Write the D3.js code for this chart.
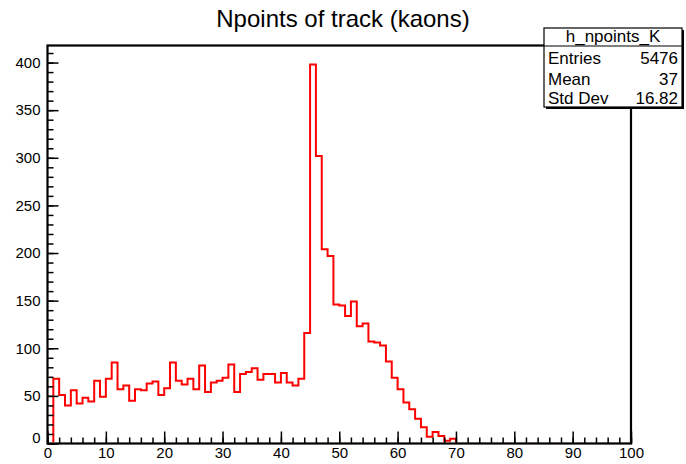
<!DOCTYPE html>
<html>
<head>
<meta charset="utf-8">
<script src="https://cdn.jsdelivr.net/npm/d3@7"></script>
<style>
  html, body { margin: 0; padding: 0; background: #fff; }
  svg { display: block; font-family: "Liberation Sans", Arial, sans-serif; }
</style>
</head>
<body>
<svg id="chart" width="686" height="464"></svg>
<script>
// Histogram h_npoints_K: 100 bins over [0, 100)
const xMin = 0, xMax = 100;
const binCounts = [
  0,
  68, 51, 40, 56, 42, 48, 44, 66, 49, 68, 85, 57, 61, 45, 57, 56, 63,
  65, 51, 58, 85, 66, 62, 68, 57, 82, 54, 64, 66, 69, 83, 54, 73, 75, 79, 67, 73, 73, 64, 74, 64, 61, 68, 116,
  398, 302, 204, 197,
  146, 145, 134, 149, 123, 126, 107, 106, 103, 86, 69, 57, 43, 36, 26, 17, 7, 12, 8, 3, 5,
  0, 0, 0, 0, 0, 0, 0, 0, 0, 0, 0, 0, 0, 0, 0, 0, 0, 0, 0, 0, 0, 0, 0, 0, 0, 0, 0, 0, 0, 0
];
const xTickValues = [0, 10, 20, 30, 40, 50, 60, 70, 80, 90, 100];
const yTickValues = [0, 50, 100, 150, 200, 250, 300, 350, 400];
const titleText = "Npoints of track (kaons)";
const statsName = "h_npoints_K";
const statsRows = [["Entries", "5476"], ["Mean", "37"], ["Std Dev", "16.82"]];

const svg = d3.select("#chart");
const frame = { left: 47.5, right: 631, top: 45.5, bottom: 443.5 };

const nBins = binCounts.length;
const binWidth = (xMax - xMin) / nBins;
const yMax = 1.05 * d3.max(binCounts);

const x = d3.scaleLinear().domain([xMin, xMax]).range([frame.left, frame.right]);
const y = d3.scaleLinear().domain([0, yMax]).range([frame.bottom, frame.top]);

// Keep the outline inside the frame so the black baseline stays clean
svg.append("defs").append("clipPath").attr("id", "plot-clip")
  .append("rect")
  .attr("x", frame.left - 2).attr("y", frame.top)
  .attr("width", frame.right - frame.left + 4)
  .attr("height", frame.bottom - frame.top - 1.2);

// Title
svg.append("text")
  .attr("x", 343).attr("y", 27)
  .attr("text-anchor", "middle")
  .attr("font-size", 24)
  .text(titleText);

// Histogram outline as a step line
const pts = [[xMin, 0]];
binCounts.forEach((c, i) => {
  const lo = xMin + i * binWidth, hi = lo + binWidth;
  pts.push([lo, c], [hi, c]);
});
pts.push([xMax, 0]);
svg.append("path")
  .datum(pts)
  .attr("clip-path", "url(#plot-clip)")
  .attr("fill", "none")
  .attr("stroke", "#ff0000")
  .attr("stroke-width", 2)
  .attr("d", d3.line().x(d => x(d[0])).y(d => y(d[1])));

// Frame
svg.append("rect")
  .attr("x", frame.left).attr("y", frame.top)
  .attr("width", frame.right - frame.left)
  .attr("height", frame.bottom - frame.top)
  .attr("fill", "none").attr("stroke", "#000").attr("stroke-width", 2.2);

// X axis: major ticks every 10, minor every 2, pointing into the frame
const xMinor = d3.range(xMin, xMax + 0.001, 2);
const gxMinor = svg.append("g").attr("transform", `translate(0,${frame.bottom})`)
  .call(d3.axisBottom(x).tickValues(xMinor).tickSize(-6).tickFormat(""));
const gx = svg.append("g").attr("transform", `translate(0,${frame.bottom})`)
  .call(d3.axisBottom(x).tickValues(xTickValues).tickSize(-12).tickPadding(4).tickFormat(d3.format("d")));

// Y axis: major ticks every 50, minor every 10
const yMinor = d3.range(0, yMax, 10);
const gyMinor = svg.append("g").attr("transform", `translate(${frame.left},0)`)
  .call(d3.axisLeft(y).tickValues(yMinor).tickSize(-6).tickFormat(""));
const gy = svg.append("g").attr("transform", `translate(${frame.left},0)`)
  .call(d3.axisLeft(y).tickValues(yTickValues).tickSize(-11).tickPadding(7).tickFormat(d3.format("d")));

[gx, gy, gxMinor, gyMinor].forEach(g => {
  g.select(".domain").remove();
  g.selectAll(".tick line").attr("stroke", "#000").attr("stroke-width", 1.5);
  g.selectAll(".tick text").attr("fill", "#000").attr("font-size", 15)
    .attr("font-family", "Liberation Sans, Arial, sans-serif");
});
gy.selectAll(".tick text").filter(d => d === 0).attr("dy", "-0.05em");

// Statistics box
const box = { x: 544, y: 28, w: 138, h: 79, sep: 46 };
svg.append("rect")
  .attr("x", box.x + 2).attr("y", box.y + 2).attr("width", box.w).attr("height", box.h)
  .attr("fill", "#000");
svg.append("rect")
  .attr("x", box.x).attr("y", box.y).attr("width", box.w).attr("height", box.h)
  .attr("fill", "#fff").attr("stroke", "#000").attr("stroke-width", 1.2);
svg.append("line")
  .attr("x1", box.x).attr("x2", box.x + box.w)
  .attr("y1", box.sep).attr("y2", box.sep)
  .attr("stroke", "#000").attr("stroke-width", 1.2);
svg.append("text")
  .attr("x", box.x + box.w / 2).attr("y", 42)
  .attr("text-anchor", "middle").attr("font-size", 17)
  .text(statsName);
const rowY = [64, 84.5, 104];
statsRows.forEach(([label, value], i) => {
  svg.append("text").attr("x", box.x + 4).attr("y", rowY[i])
    .attr("font-size", 17).text(label);
  svg.append("text").attr("x", box.x + box.w - 4).attr("y", rowY[i])
    .attr("text-anchor", "end").attr("font-size", 17).text(value);
});
</script>
</body>
</html>
